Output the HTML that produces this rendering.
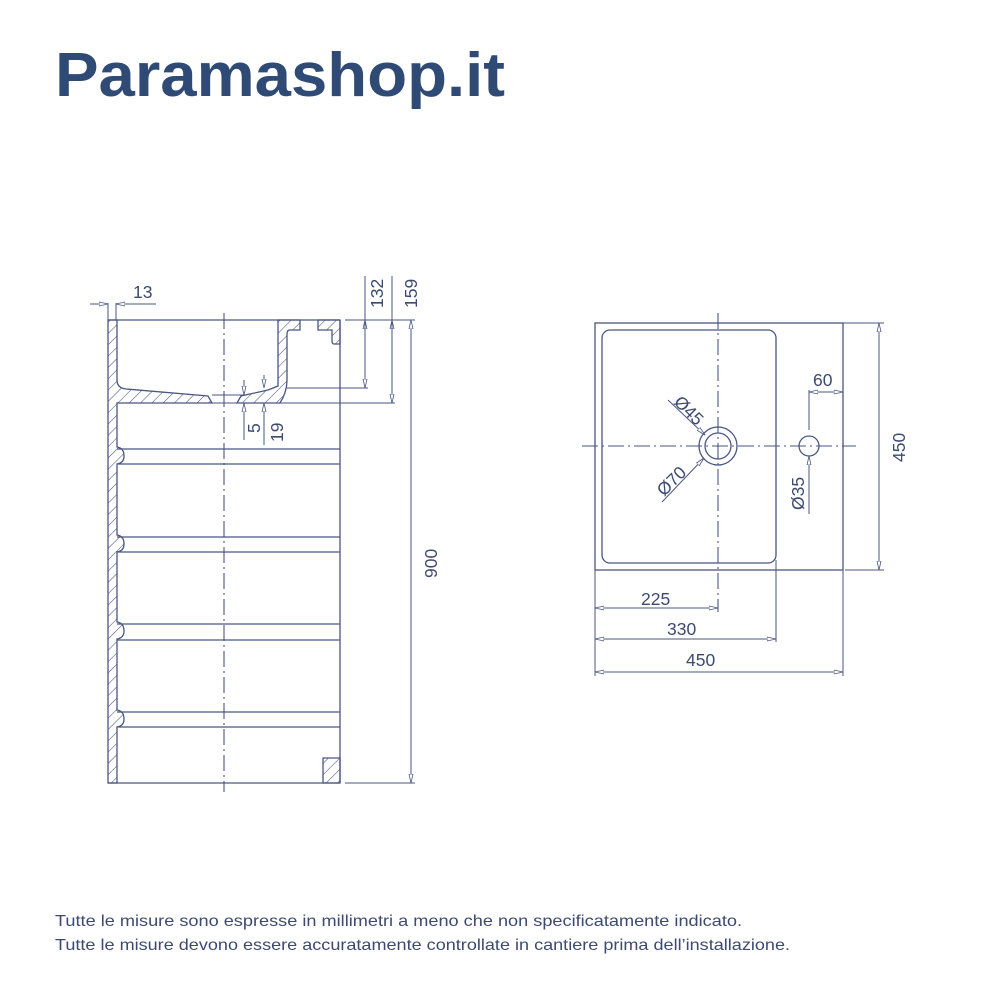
<!DOCTYPE html>
<html><head><meta charset="utf-8"><style>
html,body{margin:0;padding:0;background:#fff;}
svg{display:block;}
</style></head><body>
<svg width="1000" height="1000" viewBox="0 0 1000 1000" xmlns="http://www.w3.org/2000/svg">
<defs>
<pattern id="h" width="8" height="8" patternUnits="userSpaceOnUse" patternTransform="rotate(45)">
<line x1="0" y1="0" x2="0" y2="8" stroke="#4a5680" stroke-width="1.1"/>
</pattern>
<marker id="a" markerWidth="10" markerHeight="6" refX="9" refY="3" orient="auto-start-reverse" markerUnits="userSpaceOnUse">
<path d="M0,1 L9,3 L0,5 Z" fill="#fff" stroke="#4a5680" stroke-width="0.8"/>
</marker>
</defs>
<text x="55" y="96" font-family="Liberation Sans, sans-serif" font-weight="bold" font-size="62" fill="#2f4a74" textLength="450" lengthAdjust="spacingAndGlyphs">Paramashop.it</text>

<g stroke="#4a5680" stroke-width="1.3" fill="none">
<g fill="url(#h)">
<path d="M108,320 H117 V380 Q117,388 126,389 L208,396 L212,403 H117 V447 Q124,448 124,456 Q124,463 117,464 V535 Q124,536 124,544 Q124,551 117,552 V622 Q124,623 124,631 Q124,638 117,639 V710 Q124,711 124,719 Q124,726 117,727 V783 H108 Z"/>
<path d="M237,403 L241,396 L268,390 L278,386 V320 H300 V330 H290 Q287,330 287,334 V380 Q287,392 280,403 Z"/>
<path d="M318,320 H340 V344 H334 Q332,344 332,341 V330 H318 Z"/>
<path d="M323,758 H340 V783 H323 Z"/>
</g>
<line x1="340" y1="320" x2="340" y2="783"/>
<line x1="108" y1="783" x2="340" y2="783"/>
<line x1="108" y1="320" x2="340" y2="320"/>
<line x1="287" y1="388" x2="368" y2="388" stroke-width="1"/>
<line x1="212" y1="395" x2="245" y2="395" stroke-width="1"/>
<line x1="117" y1="403" x2="395" y2="403" stroke-width="1.1"/>
<line x1="117" y1="449" x2="340" y2="449"/><line x1="117" y1="464" x2="340" y2="464"/>
<line x1="117" y1="537" x2="340" y2="537"/><line x1="117" y1="552" x2="340" y2="552"/>
<line x1="117" y1="624" x2="340" y2="624"/><line x1="117" y1="640" x2="340" y2="640"/>
<line x1="117" y1="712" x2="340" y2="712"/><line x1="117" y1="727" x2="340" y2="727"/>
<line x1="224" y1="313" x2="224" y2="792" stroke-dasharray="16,4,2,4" stroke-width="1.1"/>
<g stroke-width="1">
<line x1="108" y1="303" x2="108" y2="320"/><line x1="116" y1="303" x2="116" y2="320"/>
<line x1="90" y1="304" x2="108" y2="304" marker-end="url(#a)"/>
<line x1="156" y1="304" x2="116" y2="304" marker-end="url(#a)"/>
<line x1="345" y1="320" x2="415" y2="320"/>
<line x1="345" y1="783" x2="415" y2="783"/>
<line x1="365" y1="276" x2="365" y2="320"/>
<line x1="365" y1="388" x2="365" y2="320" marker-end="url(#a)"/>
<line x1="365" y1="320" x2="365" y2="388" marker-end="url(#a)"/>
<line x1="392" y1="276" x2="392" y2="320"/>
<line x1="392" y1="403" x2="392" y2="320" marker-end="url(#a)"/>
<line x1="392" y1="320" x2="392" y2="403" marker-end="url(#a)"/>
<line x1="411" y1="320" x2="411" y2="783" marker-start="url(#a)" marker-end="url(#a)"/>
<line x1="244" y1="380" x2="244" y2="395" marker-end="url(#a)"/>
<line x1="244" y1="440" x2="244" y2="403" marker-end="url(#a)"/>
<line x1="264" y1="375" x2="264" y2="388" marker-end="url(#a)"/>
<line x1="264" y1="445" x2="264" y2="403" marker-end="url(#a)"/>
</g>

<rect x="595" y="323" width="248" height="247"/>
<rect x="602" y="330" width="174" height="233" rx="8"/>
<circle cx="718" cy="446" r="19"/>
<circle cx="718" cy="446" r="13"/>
<circle cx="809" cy="446" r="10"/>
<g stroke-dasharray="16,4,2,4" stroke-width="1.1">
<line x1="718" y1="313" x2="718" y2="612"/>
<line x1="582" y1="446" x2="856" y2="446"/>
</g>
<g stroke-width="1">
<line x1="595" y1="570" x2="595" y2="676"/>
<line x1="776" y1="560" x2="776" y2="642"/>
<line x1="843" y1="570" x2="843" y2="676"/>
<line x1="843" y1="323" x2="884" y2="323"/>
<line x1="845" y1="570" x2="884" y2="570"/>
<line x1="879" y1="323" x2="879" y2="570" marker-start="url(#a)" marker-end="url(#a)"/>
<line x1="595" y1="608" x2="718" y2="608" marker-start="url(#a)" marker-end="url(#a)"/>
<line x1="595" y1="639" x2="776" y2="639" marker-start="url(#a)" marker-end="url(#a)"/>
<line x1="595" y1="672" x2="843" y2="672" marker-start="url(#a)" marker-end="url(#a)"/>
<line x1="809" y1="392" x2="843" y2="392" marker-start="url(#a)" marker-end="url(#a)"/>
<line x1="809" y1="390" x2="809" y2="430"/>
<line x1="809" y1="514" x2="809" y2="456" marker-end="url(#a)"/>
<line x1="668" y1="400" x2="705" y2="435" marker-end="url(#a)"/>
<line x1="662" y1="502" x2="704" y2="458" marker-end="url(#a)"/>
</g>
</g>

<g font-family="Liberation Sans, sans-serif" font-size="17.5" fill="#3d4a70">
<text x="133" y="298">13</text>
<text transform="translate(383,308) rotate(-90)">132</text>
<text transform="translate(417,308) rotate(-90)">159</text>
<text transform="translate(260,433) rotate(-90)">5</text>
<text transform="translate(283,442) rotate(-90)">19</text>
<text transform="translate(437,578) rotate(-90)">900</text>
<text transform="translate(905,462) rotate(-90)">450</text>
<text x="813" y="386">60</text>
<text x="641" y="605">225</text>
<text x="667" y="635">330</text>
<text x="686" y="666">450</text>
<text transform="translate(673,403) rotate(45)">Ø45</text>
<text transform="translate(664,497) rotate(-45)">Ø70</text>
<text transform="translate(804,510) rotate(-90)">Ø35</text>
</g>
<g font-family="Liberation Sans, sans-serif" font-size="16" fill="#3d4a70">
<text x="55" y="926" textLength="687" lengthAdjust="spacingAndGlyphs">Tutte le misure sono espresse in millimetri a meno che non specificatamente indicato.</text>
<text x="55" y="950" textLength="735" lengthAdjust="spacingAndGlyphs">Tutte le misure devono essere accuratamente controllate in cantiere prima dell’installazione.</text>
</g>
</svg>
</body></html>
